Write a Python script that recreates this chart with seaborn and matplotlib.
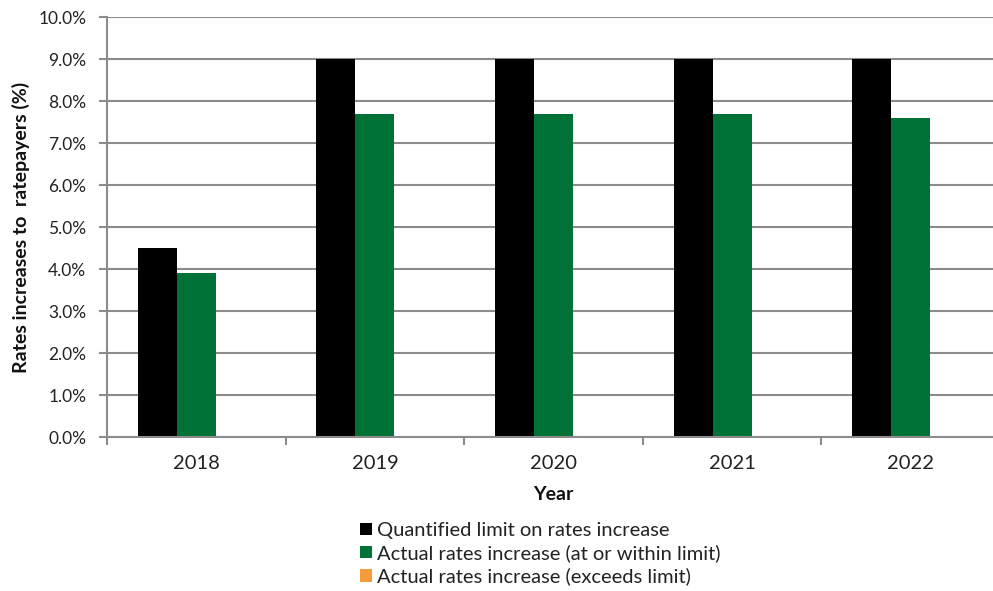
import matplotlib
matplotlib.use("Agg")
import matplotlib.pyplot as plt
import matplotlib.ticker as mticker
import seaborn as sns
import pandas as pd

years = ["2018", "2019", "2020", "2021", "2022"]
limit_values = [4.5, 9.0, 9.0, 9.0, 9.0]
within_values = [3.9, 7.7, 7.7, 7.7, 7.6]
exceeds_values = [0.0, 0.0, 0.0, 0.0, 0.0]
series_names = [
    "Quantified limit on rates increase",
    "Actual rates increase (at or within limit)",
    "Actual rates increase (exceeds limit)",
]
series_colors = ["#000000", "#007236", "#F79A3B"]

rows = []
for name, vals in zip(series_names, [limit_values, within_values, exceeds_values]):
    for y, v in zip(years, vals):
        rows.append({"Year": y, "Series": name, "Value": v})
df = pd.DataFrame(rows)

sns.set_theme(style="white")
plt.rcParams["font.family"] = ["Lato", "DejaVu Sans"]

fig = plt.figure(figsize=(9.93, 5.91), dpi=100)
ax = fig.add_axes([107 / 993, 1 - 437 / 591, 893 / 993, 420 / 591])

sns.barplot(data=df, x="Year", y="Value", hue="Series", hue_order=series_names,
            palette=series_colors, width=0.655, saturation=1, ax=ax,
            legend=True, errorbar=None, linewidth=0, edgecolor="none")

ax.set_xlim(-0.5, 4.5)
ax.set_ylim(0, 10)
ax.yaxis.set_major_locator(mticker.MultipleLocator(1))
ax.yaxis.set_major_formatter(mticker.FuncFormatter(lambda v, p: f"{v:.1f}%"))
ax.grid(axis="y", color="#8c8c8c", linewidth=1.5)
ax.set_axisbelow(True)

# category boundaries as ticks, year labels centred between them
ax.set_xticks([i - 0.5 for i in range(6)])
ax.set_xticklabels([])
ax.set_xticks(range(5), minor=True)
ax.set_xticklabels(years, minor=True)
ax.tick_params(axis="x", which="major", direction="out", length=6, width=1.5,
               color="#8c8c8c", bottom=True)
ax.tick_params(axis="x", which="minor", length=0, pad=13, labelsize=14.5,
               labelcolor="#222222")
ax.tick_params(axis="y", direction="out", length=6, width=1.5, color="#8c8c8c",
               left=True, labelsize=12.5, labelcolor="#222222", pad=9)

for side in ["top", "right"]:
    ax.spines[side].set_visible(False)
for side in ["left", "bottom"]:
    ax.spines[side].set_color("#8c8c8c")
    ax.spines[side].set_linewidth(1.5)

ax.set_xlabel("Year", fontsize=14, fontweight="bold", labelpad=10, color="#111111")
ax.set_ylabel("Rates increases to  ratepayers (%)", fontsize=14,
              fontweight="bold", labelpad=6, color="#111111")

handles, labels = ax.get_legend_handles_labels()
ax.legend(handles, labels, loc="upper left", bbox_to_anchor=(352 / 993, 1 - 514 / 591),
          bbox_transform=fig.transFigure, frameon=False, fontsize=14.5,
          handlelength=0.6, handleheight=0.6, handletextpad=0.25,
          labelspacing=0.26, borderaxespad=0)
for t in ax.get_legend().get_texts():
    t.set_color("#222222")

fig.savefig("out.png", dpi=100)
